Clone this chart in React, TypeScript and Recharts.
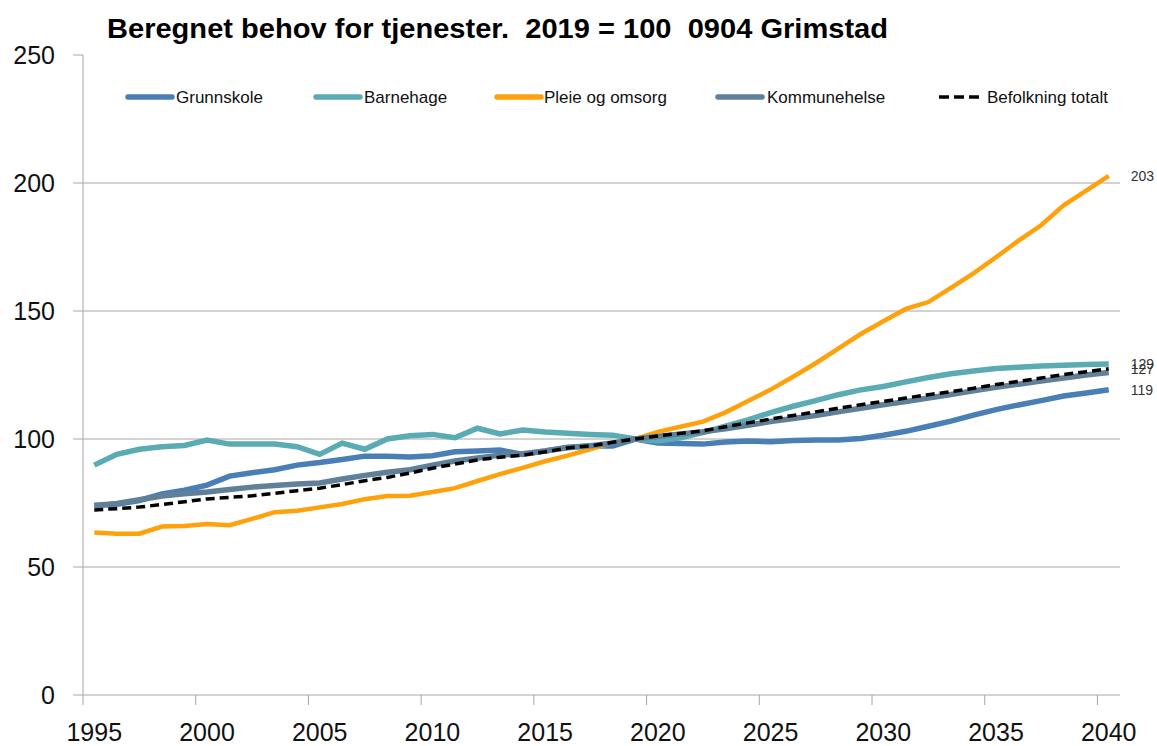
import React from 'react'
import { LineChart, Line, XAxis, YAxis, CartesianGrid } from 'recharts'

const years = [
  1995, 1996, 1997, 1998, 1999, 2000, 2001, 2002, 2003, 2004,
  2005, 2006, 2007, 2008, 2009, 2010, 2011, 2012, 2013, 2014,
  2015, 2016, 2017, 2018, 2019, 2020, 2021, 2022, 2023, 2024,
  2025, 2026, 2027, 2028, 2029, 2030, 2031, 2032, 2033, 2034,
  2035, 2036, 2037, 2038, 2039, 2040,
]

const grunnskole = [
  74, 74.5, 76, 78.5, 80, 82, 85.5, 86.8, 88, 89.8,
  90.8, 92, 93.3, 93.3, 93, 93.5, 95, 95.3, 95.7, 94,
  95.3, 96.8, 97.3, 97.3, 100, 98.4, 98.2, 98, 98.8, 99.2,
  98.9, 99.4, 99.6, 99.6, 100.2, 101.5, 103, 105, 107, 109.3,
  111.5, 113.3, 115, 116.8, 118, 119.2,
]

const barnehage = [
  89.8, 94, 96, 97, 97.5, 99.6, 98, 98, 98, 97,
  94, 98.4, 96, 100, 101.3, 101.8, 100.5, 104.2, 102, 103.5,
  102.7, 102.2, 101.8, 101.5, 100, 99.2, 100.5, 102.5, 105, 107.5,
  110.3, 112.8, 115, 117.3, 119.2, 120.5, 122.3, 124, 125.5, 126.6,
  127.5, 128, 128.5, 128.8, 129.1, 129.3,
]

const pleieOgOmsorg = [
  63.5, 63, 63, 65.8, 66, 66.8, 66.3, 68.8, 71.4, 72,
  73.3, 74.6, 76.5, 77.7, 77.8, 79.3, 80.8, 83.6, 86.3, 88.7,
  91.3, 93.5, 96, 98.6, 100, 102.8, 104.8, 106.8, 110.4, 114.8,
  119.3, 124.3, 129.6, 135.3, 141, 146, 150.8, 153.5, 159, 164.7,
  171, 177.5, 183.5, 191.3, 197, 202.8,
]

const kommunehelse = [
  74, 74.8, 76.3, 77.7, 78.6, 79.3, 80.3, 81.2, 81.8, 82.4,
  82.8, 84.4, 85.8, 87, 88, 89.8, 91.4, 92.6, 93.7, 94.2,
  95.3, 96.6, 97.4, 98.4, 100, 101, 102, 102.8, 104, 105.4,
  106.8, 108, 109.2, 110.6, 112, 113.4, 114.6, 116, 117.4, 118.8,
  120.2, 121.4, 122.6, 123.8, 125, 126,
]

const befolkning = [
  72.3, 72.8, 73.4, 74.4, 75.5, 76.6, 77.2, 77.8, 78.8, 79.8,
  80.8, 82.2, 83.7, 85, 86.7, 88.6, 90.2, 91.8, 92.9, 93.7,
  95, 96.5, 97.3, 98.7, 100, 101.2, 102.2, 103.2, 104.8, 106.3,
  107.8, 109.2, 110.6, 112, 113.4, 114.7, 116, 117.3, 118.5, 119.8,
  121.3, 122.5, 123.8, 125.2, 126.3, 127.4,
]

const xTicks = [1995, 2000, 2005, 2010, 2015, 2020, 2025, 2030, 2035, 2040]
const yTicks = [0, 50, 100, 150, 200, 250]
const gridValues = [50, 100, 150, 200]

const TITLE = 'Beregnet behov for tjenester.  2019 = 100  0904 Grimstad'

const data = years.map((year, i) => ({
  year,
  grunnskole: grunnskole[i],
  barnehage: barnehage[i],
  pleie: pleieOgOmsorg[i],
  kommunehelse: kommunehelse[i],
  befolkning: befolkning[i],
}))

// layout
const W = 1157
const H = 746
const MARGIN = { top: 55, right: 37, bottom: 0, left: 0 }
const Y_AXIS_W = 83
const X_AXIS_H = 51
const AXIS_Y = H - X_AXIS_H
const HALF_CAT = (W - Y_AXIS_W - MARGIN.right) / 46 / 2
const FONT = '"Liberation Sans", Arial, sans-serif'
const AXIS_COLOR = '#a6a6a6'

const series = [
  { key: 'grunnskole', name: 'Grunnskole', color: '#4a7fb5', width: 5.5, dash: undefined, endLabel: true, lx: 128, tx: 176 },
  { key: 'barnehage', name: 'Barnehage', color: '#5aabb3', width: 5.5, dash: undefined, endLabel: true, lx: 316, tx: 364 },
  { key: 'pleie', name: 'Pleie og omsorg', color: '#ffa10a', width: 4.5, dash: undefined, endLabel: true, lx: 497, tx: 544 },
  { key: 'kommunehelse', name: 'Kommunehelse', color: '#60809a', width: 5.5, dash: undefined, endLabel: false, lx: 718, tx: 767 },
  { key: 'befolkning', name: 'Befolkning totalt', color: '#000000', width: 3.5, dash: '9 5', endLabel: true, lx: 939, tx: 987 },
]

const XTick = ({ x, payload }: any) => (
  <g>
    <line x1={x - HALF_CAT} x2={x - HALF_CAT} y1={AXIS_Y} y2={AXIS_Y + 10} stroke={AXIS_COLOR} />
    <text x={x} y={AXIS_Y + 46} textAnchor="middle" fontSize={25} fontFamily={FONT} fill="#111">
      {payload.value}
    </text>
  </g>
)

const endLabel = (props: any) => {
  const { x, y, index, value } = props
  if (index !== years.length - 1) return null
  return (
    <text x={x + 22} y={y + 5} fontSize={14} fontFamily={FONT} fill="#333">
      {Math.round(value)}
    </text>
  )
}

export default function App() {
  return (
    <div style={{ position: 'absolute', left: 0, top: 0, width: W, height: H, background: '#fff' }}>
      <LineChart width={W} height={H} data={data} margin={MARGIN}>
        <CartesianGrid horizontal vertical={false} horizontalValues={gridValues} stroke={AXIS_COLOR} />
        <XAxis
          dataKey="year"
          type="number"
          domain={[1994.5, 2040.5]}
          ticks={xTicks}
          interval={0}
          height={X_AXIS_H}
          tickLine={false}
          axisLine={{ stroke: AXIS_COLOR }}
          tick={<XTick />}
        />
        <YAxis
          domain={[0, 250]}
          ticks={yTicks}
          width={Y_AXIS_W}
          tickSize={10}
          tickMargin={18}
          axisLine={{ stroke: AXIS_COLOR }}
          tickLine={{ stroke: AXIS_COLOR }}
          tick={{ fontSize: 25, fontFamily: FONT, fill: '#111' }}
        />
        {series.map((s) => (
          <Line
            key={s.key}
            type="linear"
            dataKey={s.key}
            name={s.name}
            stroke={s.color}
            strokeWidth={s.width}
            strokeDasharray={s.dash}
            dot={false}
            activeDot={false}
            isAnimationActive={false}
            label={s.endLabel ? endLabel : false}
          />
        ))}
      </LineChart>

      {/* title + legend drawn on top, legend sits inside the plot like the original */}
      <svg width={W} height={120} style={{ position: 'absolute', left: 0, top: 0, pointerEvents: 'none' }}>
        <text
          x={107}
          y={38}
          fontSize={27}
          fontWeight="bold"
          fontFamily={FONT}
          fill="#000"
          textLength={781}
          lengthAdjust="spacingAndGlyphs"
          style={{ whiteSpace: 'pre' }}
        >
          {TITLE}
        </text>
        {series.map((s) => (
          <g key={s.key}>
            <line
              x1={s.lx}
              x2={s.lx + 44}
              y1={97}
              y2={97}
              stroke={s.color}
              strokeWidth={s.dash ? 3.5 : 5.5}
              strokeDasharray={s.dash ? '10 5' : undefined}
              strokeLinecap={s.dash ? 'butt' : 'round'}
            />
            <text x={s.tx} y={97} dominantBaseline="central" fontSize={17} fontFamily={FONT} fill="#111">
              {s.name}
            </text>
          </g>
        ))}
      </svg>
    </div>
  )
}
